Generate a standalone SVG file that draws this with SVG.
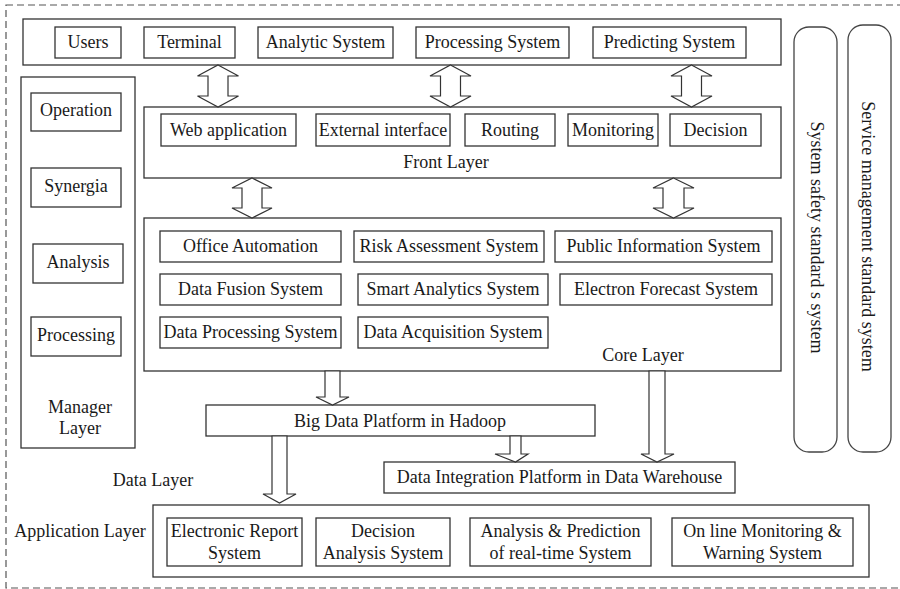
<svg xmlns="http://www.w3.org/2000/svg" width="900" height="589" viewBox="0 0 900 589">
  <style>
    .frame { fill: none; stroke: #555; stroke-width: 1.2; stroke-dasharray: 7 4; }
    .layer { fill: #fff; stroke: #333; stroke-width: 1.3; }
    .box { fill: #fff; stroke: #333; stroke-width: 1.3; }
    .pill { fill: #fff; stroke: #444; stroke-width: 1.3; }
    .arrow { fill: #fff; stroke: #333; stroke-width: 1.2; stroke-linejoin: miter; }
    text { font-family: "Liberation Serif", "Times New Roman", serif; font-size: 18px; fill: #1a1a1a; text-anchor: middle; }
  </style>

  <rect width="900" height="589" fill="#fff"/>
  <!-- outer dashed boundary -->
  <rect class="frame" x="6" y="5" width="897" height="583"/>

  <!-- top row: clients -->
  <g id="client-layer">
    <rect class="layer" x="23" y="19" width="758" height="46"/>
  </g>
  <g id="users"><rect class="box" x="55" y="27" width="66" height="31"/><text x="88" y="48">Users</text></g>
  <g id="terminal"><rect class="box" x="144" y="27" width="91" height="31"/><text x="189.5" y="48">Terminal</text></g>
  <g id="analytic-system"><rect class="box" x="258" y="27" width="135" height="31"/><text x="325.5" y="48">Analytic System</text></g>
  <g id="processing-system"><rect class="box" x="416" y="27" width="153" height="31"/><text x="492.5" y="48">Processing System</text></g>
  <g id="predicting-system"><rect class="box" x="593" y="27" width="153" height="31"/><text x="669.5" y="48">Predicting System</text></g>

  <!-- manager layer -->
  <g id="manager-layer">
    <rect class="layer" x="21" y="77" width="114" height="371"/>
    <text x="80" y="413">Manager</text>
    <text x="80" y="434">Layer</text>
  </g>
  <g id="operation"><rect class="box" x="31" y="93" width="90" height="38"/><text x="76" y="116">Operation</text></g>
  <g id="synergia"><rect class="box" x="31" y="168" width="90" height="39"/><text x="76" y="192">Synergia</text></g>
  <g id="analysis"><rect class="box" x="33" y="244" width="90" height="39"/><text x="78" y="268">Analysis</text></g>
  <g id="processing"><rect class="box" x="31" y="317" width="90" height="39"/><text x="76" y="341">Processing</text></g>

  <!-- front layer -->
  <g id="front-layer">
    <rect class="layer" x="144" y="107" width="637" height="71"/>
    <text x="446" y="168">Front Layer</text>
  </g>
  <g id="web-application"><rect class="box" x="161" y="114" width="135" height="32"/><text x="228.5" y="136">Web application</text></g>
  <g id="external-interface"><rect class="box" x="316" y="114" width="134" height="32"/><text x="383" y="136">External interface</text></g>
  <g id="routing"><rect class="box" x="465" y="114" width="90" height="32"/><text x="510" y="136">Routing</text></g>
  <g id="monitoring"><rect class="box" x="568" y="114" width="90" height="32"/><text x="613" y="136">Monitoring</text></g>
  <g id="decision"><rect class="box" x="670" y="114" width="91" height="32"/><text x="715.5" y="136">Decision</text></g>

  <!-- core layer -->
  <g id="core-layer">
    <rect class="layer" x="144" y="218" width="637" height="153"/>
    <text x="643" y="361">Core Layer</text>
  </g>
  <g id="office-automation"><rect class="box" x="160" y="231" width="181" height="31"/><text x="250.5" y="252">Office Automation</text></g>
  <g id="risk-assessment"><rect class="box" x="354" y="231" width="190" height="31"/><text x="449" y="252">Risk Assessment System</text></g>
  <g id="public-information"><rect class="box" x="555" y="231" width="217" height="31"/><text x="663.5" y="252">Public Information System</text></g>
  <g id="data-fusion"><rect class="box" x="160" y="274" width="181" height="31"/><text x="250.5" y="295">Data Fusion System</text></g>
  <g id="smart-analytics"><rect class="box" x="358" y="274" width="190" height="31"/><text x="453" y="295">Smart Analytics System</text></g>
  <g id="electron-forecast"><rect class="box" x="560" y="274" width="212" height="31"/><text x="666" y="295">Electron Forecast System</text></g>
  <g id="data-processing"><rect class="box" x="160" y="317" width="181" height="31"/><text x="250.5" y="338">Data Processing System</text></g>
  <g id="data-acquisition"><rect class="box" x="358" y="317" width="190" height="31"/><text x="453" y="338">Data Acquisition System</text></g>

  <!-- data layer -->
  <g id="big-data-platform"><rect class="box" x="206" y="405" width="389" height="31"/><text x="400" y="427">Big Data Platform in Hadoop</text></g>
  <g id="data-integration-platform"><rect class="box" x="384" y="462" width="351" height="31"/><text x="559.5" y="483">Data Integration Platform in Data Warehouse</text></g>
  <g id="data-layer-label"><text x="153" y="486">Data Layer</text></g>

  <!-- application layer -->
  <g id="application-layer">
    <rect class="layer" x="153" y="505" width="716" height="72"/>
    <text x="80" y="537">Application Layer</text>
  </g>
  <g id="electronic-report"><rect class="box" x="167" y="518" width="135" height="48"/><text x="234.5" y="537">Electronic Report</text><text x="234.5" y="559">System</text></g>
  <g id="decision-analysis"><rect class="box" x="316" y="518" width="134" height="48"/><text x="383" y="537">Decision</text><text x="383" y="559">Analysis System</text></g>
  <g id="analysis-prediction"><rect class="box" x="470" y="518" width="181" height="48"/><text x="560.5" y="537">Analysis &amp; Prediction</text><text x="560.5" y="559">of real-time System</text></g>
  <g id="online-monitoring"><rect class="box" x="672" y="518" width="181" height="48"/><text x="762.5" y="537">On line Monitoring &amp;</text><text x="762.5" y="559">Warning System</text></g>

  <!-- cross-cutting standards -->
  <g id="safety-standards">
    <rect class="pill" x="794" y="27" width="43" height="425" rx="15" ry="15"/>
    <text transform="translate(811 237.5) rotate(90)">System safety standard s system</text>
  </g>
  <g id="service-standards">
    <rect class="pill" x="848" y="25" width="43" height="427" rx="15" ry="15"/>
    <text transform="translate(862 236.5) rotate(90)">Service management standard system</text>
  </g>

  <!-- block arrows -->
  <g id="connectors">
    <!-- clients <-> front layer -->
    <path class="arrow" d="M218 65 L238.5 76 L228 76 L228 96 L238.5 96 L218 107 L197.5 96 L208 96 L208 76 L197.5 76 Z"/>
    <path class="arrow" d="M450.5 65 L471 76 L460.5 76 L460.5 96 L471 96 L450.5 107 L430 96 L440.5 96 L440.5 76 L430 76 Z"/>
    <path class="arrow" d="M691.5 65 L712 76 L701.5 76 L701.5 96 L712 96 L691.5 107 L671 96 L681.5 96 L681.5 76 L671 76 Z"/>
    <!-- front layer <-> core layer -->
    <path class="arrow" d="M252 178 L272 188 L262 188 L262 208 L272 208 L252 218 L232 208 L242 208 L242 188 L232 188 Z"/>
    <path class="arrow" d="M673.5 178 L694 188 L684 188 L684 208 L694 208 L673.5 218 L653 208 L663 208 L663 188 L653 188 Z"/>
    <!-- core layer -> data layer -->
    <path class="arrow" d="M325 371 L340 371 L340 397 L349 397 L332.5 405 L316 397 L325 397 Z"/>
    <path class="arrow" d="M649 371 L665 371 L665 454 L674 454 L657 462 L641 454 L649 454 Z"/>
    <path class="arrow" d="M510 436 L521 436 L521 454 L528 454 L515.5 462 L495 454 L510 454 Z"/>
    <!-- data layer -> application layer -->
    <path class="arrow" d="M272 436 L287 436 L287 494 L296 494 L279.5 503 L263 494 L272 494 Z"/>
  </g>
</svg>
